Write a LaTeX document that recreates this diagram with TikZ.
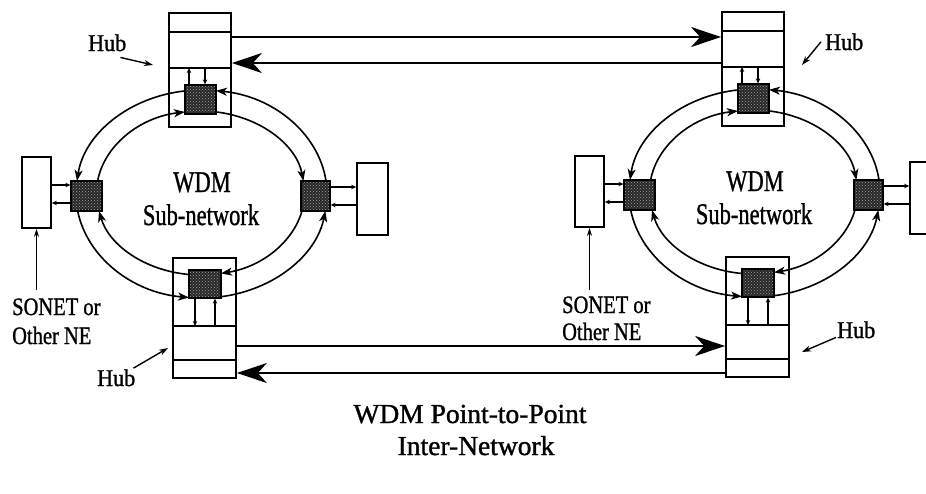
\documentclass[tikz,border=0pt]{standalone}
\usepackage{fontspec}
\setmainfont{Liberation Serif}[FakeBold=1.2]
\usepackage{graphicx}
\usetikzlibrary{arrows.meta,patterns}
\newcommand\fs[2]{\fontsize{#1}{#2}\selectfont}
\tikzset{
  hubbox/.style={draw, line width=1.7pt, fill=white, inner sep=0pt},
  switchbox/.style={draw, line width=1.3pt, inner sep=0pt, preaction={fill=black!85}, pattern=crosshatch dots, pattern color=black!35},
  divline/.style={line width=1.6pt},
  ringline/.style={line width=1.6pt},
  ringtip/.style={-{Stealth[length=11pt,width=8pt,inset=3pt]}},
  smallarr/.style={line width=1.1pt, -{Stealth[length=5pt,width=4.5pt]}},
  sonarr/.style={line width=1.3pt, -{Stealth[length=8pt,width=5pt]}},
  bigarr/.style={line width=2.2pt, -{Stealth[length=30pt,width=20pt,inset=9pt]}},
  labarr/.style={line width=1.4pt, -{Stealth[length=9pt,width=6pt]}},
  lbl/.style={inner sep=0pt, anchor=base west},
  ctext/.style={inner sep=0pt, anchor=base, font=\fs{30}{34}},
}
\newcommand\oarc[3]{\draw[ringline,#3] ({201.5+125.5*cos(#1)},{194+104*sin(#1)}) arc[start angle=#1,end angle=#2,x radius=125.5,y radius=104];}
\newcommand\iarc[3]{\draw[ringline,#3] ({200.5+104*cos(#1)},{193+82*sin(#1)}) arc[start angle=#1,end angle=#2,x radius=104,y radius=82];}
\newcommand\ringnet{%
  % boxes
  \node[hubbox, minimum width=62pt, minimum height=114pt] (th) at (200,70) {};
  \node[hubbox, minimum width=63pt, minimum height=120pt] (bh) at (204.5,318) {};
  \node[hubbox, minimum width=29pt, minimum height=71pt] (lb) at (36.5,192.5) {};
  \node[hubbox, minimum width=31pt, minimum height=72pt] (rb) at (372.5,199) {};
  \draw[divline] (th.west |- 0,32) -- (th.east |- 0,32);
  \draw[divline] (th.west |- 0,68) -- (th.east |- 0,68);
  \draw[divline] (bh.west |- 0,326) -- (bh.east |- 0,326);
  \draw[divline] (bh.west |- 0,360) -- (bh.east |- 0,360);
  % outer ring (counter-clockwise on screen)
  \oarc{262.4}{187.2}{ringtip}
  \oarc{170.6}{95.7}{ringtip}
  \oarc{81.1}{9.4}{ringtip}
  \oarc{-7.2}{-83.4}{ringtip}
  % inner ring (clockwise on screen)
  \iarc{-81.4}{-8.4}{ringtip}
  \iarc{12.7}{78.6}{ringtip}
  \iarc{96.3}{167.3}{ringtip}
  \iarc{188.4}{261.4}{ringtip}
  % switches
  \node[switchbox, minimum width=31pt, minimum height=29pt] (ts) at (200.5,99.5) {};
  \node[switchbox, minimum width=31pt, minimum height=30pt] (ls) at (86.5,196) {};
  \node[switchbox, minimum width=29pt, minimum height=30pt] (rs) at (315.5,196) {};
  \node[switchbox, minimum width=32pt, minimum height=28pt] (bs) at (205,284) {};
  % hub drop/add arrows
  \draw[smallarr] (ts.north -| 189,0) -- (189,68);
  \draw[smallarr] (205,68) -- (ts.north -| 205,0);
  \draw[smallarr] (bs.south -| 195,0) -- (195,326);
  \draw[smallarr] (215,326) -- (bs.south -| 215,0);
  % switch to terminal boxes
  \draw[smallarr] (lb.east |- 0,185) -- (ls.west |- 0,185);
  \draw[smallarr] (ls.west |- 0,203) -- (lb.east |- 0,203);
  \draw[smallarr] (rs.east |- 0,187) -- (rb.west |- 0,187);
  \draw[smallarr] (rb.west |- 0,205) -- (rs.east |- 0,205);
  % centre text
  \node[ctext] (wdm) at (202,192) {\scalebox{0.75}[1]{WDM}};
  \node[ctext] (subnet) at (201,225) {\scalebox{0.75}[1]{Sub-network}};
}
\begin{document}
\begin{tikzpicture}[x=1pt,y=-1pt]
  \useasboundingbox (0,0) rectangle (926,493);
  \fill[white] (0,0) rectangle (926,493);
  \clip (0,0) rectangle (926,493);

  \begin{scope}[name prefix=L-]
    \ringnet
  \end{scope}
  \begin{scope}[shift={(553,-1)}, name prefix=R-]
    \ringnet
  \end{scope}

  % long inter-network links
  \draw[bigarr] (L-th.east |- 0,37) -- (R-th.west |- 0,37);
  \draw[bigarr] (R-th.west |- 0,63) -- (L-th.east |- 0,63);
  \draw[bigarr] (L-bh.east |- 0,346) -- (R-bh.west |- 0,346);
  \draw[bigarr] (R-bh.west |- 0,373) -- (L-bh.east |- 0,373);

  % Hub labels
  \node[lbl, font=\fs{24}{28}] (hubA) at (88,51) {\scalebox{0.92}[1]{Hub}};
  \coordinate (hubAt) at (153,65);
  \draw[labarr] ([shift={(-6,6)}]hubA.south east) -- (hubAt);

  \node[lbl, font=\fs{24}{28}] (hubB) at (97,386) {\scalebox{0.92}[1]{Hub}};
  \coordinate (hubBt) at (168,348);
  \draw[labarr] ([shift={(-2,-1)}]hubB.north east) -- (hubBt);

  \node[lbl, font=\fs{24}{28}] (hubC) at (825,50) {\scalebox{0.92}[1]{Hub}};
  \coordinate (hubCt) at (802,65);
  \draw[labarr] ([shift={(-4,0)}]hubC.west) -- (hubCt);

  \node[lbl, font=\fs{24}{28}] (hubD) at (837,338) {\scalebox{0.92}[1]{Hub}};
  \coordinate (hubDt) at (802,352);
  \draw[labarr] ([shift={(-1,-1)}]hubD.south west) -- (hubDt);

  % SONET labels
  \node[lbl, font=\fs{25}{29}] (sonA1) at (12,315) {\scalebox{0.82}[1]{SONET or}};
  \node[lbl, font=\fs{25}{29}] (sonA2) at (12,344) {\scalebox{0.82}[1]{Other NE}};
  \coordinate (sonAt) at (36.5,290);
  \draw[sonarr] (sonAt) -- (L-lb.south);

  \node[lbl, font=\fs{25}{29}] (sonB1) at (562,313) {\scalebox{0.82}[1]{SONET or}};
  \node[lbl, font=\fs{25}{29}] (sonB2) at (562,340) {\scalebox{0.82}[1]{Other NE}};
  \coordinate (sonBt) at (589.5,290);
  \draw[sonarr] (sonBt) -- (R-lb.south);

  % title
  \node[inner sep=0pt, anchor=base, font=\fs{27.5}{32}] (title1) at (470,423) {WDM Point-to-Point};
  \node[inner sep=0pt, anchor=base, font=\fs{27.5}{32}] (title2) at (476,455) {Inter-Network};
\end{tikzpicture}
\end{document}
